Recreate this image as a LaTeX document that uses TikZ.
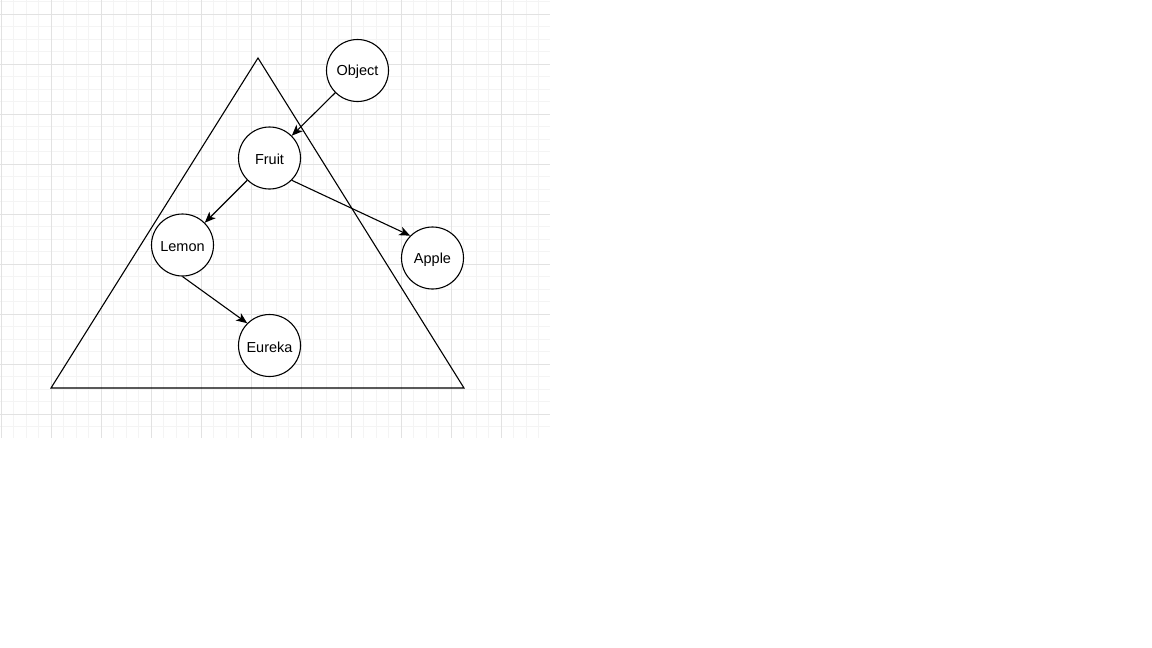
\documentclass[tikz,border=0pt]{standalone}
\usepackage{fontspec}
\setmainfont{Liberation Sans}
\usetikzlibrary{arrows.meta}
\begin{document}
\begin{tikzpicture}[x=1pt,y=-1pt,
  minorgrid/.style={draw={rgb,255:red,244;green,244;blue,244},line width=1pt},
  majorgrid/.style={draw={rgb,255:red,226;green,226;blue,226},line width=1pt},
  circ/.style={circle,draw=black,line width=1.1pt,fill=white,minimum size=62pt,inner sep=0pt,font=\fontsize{14.5}{16}\selectfont},
  lbl/.style={font=\fontsize{14.5}{16}\selectfont,inner sep=0pt},
  tri/.style={draw=black,line width=1.1pt},
  conn/.style={draw=black,line width=1.1pt,-{Stealth[length=11pt,width=9pt,inset=3pt]}}]
\useasboundingbox (0,0) rectangle (1152,648);
\fill[white] (0,0) rectangle (1152,648);
\begin{scope}
\clip (0,0) rectangle (550,438);
\foreach \k in {0,...,43} {\draw[minorgrid] (1+12.5*\k,0) -- (1+12.5*\k,438);}
\foreach \k in {0,...,34} {\draw[minorgrid] (0,1.5+12.5*\k) -- (550,1.5+12.5*\k);}
\foreach \k in {0,...,10} {\draw[majorgrid] (1+50*\k,0) -- (1+50*\k,438);}
\foreach \k in {0,...,8} {\draw[majorgrid] (0,14+50*\k) -- (550,14+50*\k);}
\end{scope}
\coordinate (ta) at (258,58);
\coordinate (tl) at (51,388);
\coordinate (tr) at (464,388);
\draw[tri] (ta) -- (tl) -- (tr) -- cycle;
\node[circ] (object) at (357.5,70.5) {};
\node[circ] (fruit) at (269.5,158) {};
\node[circ] (lemon) at (182.5,245) {};
\node[circ] (apple) at (432.5,258) {};
\node[circ] (eureka) at (269.5,345.5) {};
\node[lbl] (objectl) at ([yshift=-1.5pt]object.center) {Object};
\node[lbl] (fruitl) at ([yshift=-1.5pt]fruit.center) {Fruit};
\node[lbl] (lemonl) at ([yshift=-1.5pt]lemon.center) {Lemon};
\node[lbl] (applel) at ([yshift=-1.5pt]apple.center) {Apple};
\node[lbl] (eurekal) at ([yshift=-1.5pt]eureka.center) {Eureka};
\draw[conn] (object.south west) -- (fruit.north east);
\draw[conn] (fruit.south west) -- (lemon.north east);
\draw[conn] (fruit.south east) -- (apple.north west);
\draw[conn] (lemon.south) -- (eureka.north west);
\end{tikzpicture}
\end{document}
